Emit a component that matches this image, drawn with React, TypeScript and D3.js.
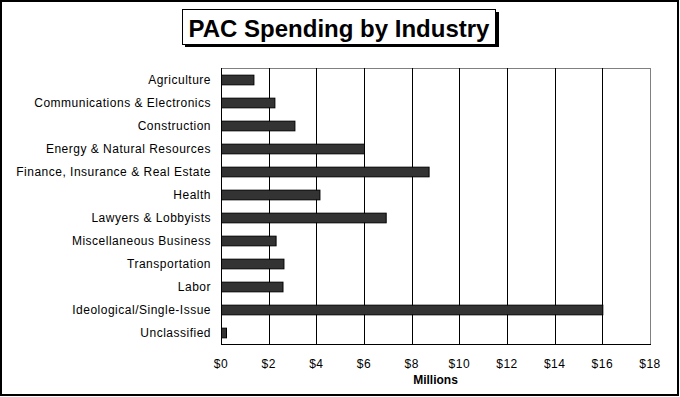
import React from "react";
import { scaleBand, scaleLinear, range } from "d3";

const categories = [
  "Agriculture",
  "Communications & Electronics",
  "Construction",
  "Energy & Natural Resources",
  "Finance, Insurance & Real Estate",
  "Health",
  "Lawyers & Lobbyists",
  "Miscellaneous Business",
  "Transportation",
  "Labor",
  "Ideological/Single-Issue",
  "Unclassified",
];

// millions of dollars
const spending = [1.36, 2.24, 3.08, 6.0, 8.71, 4.13, 6.91, 2.29, 2.62, 2.58, 16.0, 0.21];

const tickValues = range(0, 19, 2);

const width = 680;
const height = 397;
const margin = { top: 68, right: 30, bottom: 53, left: 221 };
const font = "Arial, 'Liberation Sans', sans-serif";

const App = () => {
  const xScale = scaleLinear()
    .domain([0, 18])
    .range([margin.left, width - margin.right]);

  const yScale = scaleBand()
    .domain(categories)
    .range([margin.top, height - margin.bottom])
    .paddingInner(0.58)
    .paddingOuter(0.29);

  const plotBottom = height - margin.bottom;
  const plotRight = width - margin.right;

  return (
    <div style={{ position: "fixed", left: 0, top: 0 }}>
      <svg width={width} height={height} style={{ display: "block", background: "white" }}>
        <rect x={1} y={1} width={677} height={394} fill="white" stroke="black" strokeWidth={2} />

        {/* title box with drop shadow */}
        <rect x={185} y={12} width={314} height={35} fill="black" />
        <rect x={182.5} y={9.5} width={313} height={35} fill="white" stroke="black" strokeWidth={1} />
        <text x={339} y={37} textAnchor="middle" fontFamily={font} fontWeight="bold" fontSize={24}>
          PAC Spending by Industry
        </text>

        {/* plot frame */}
        <line x1={margin.left} x2={plotRight} y1={margin.top + 0.5} y2={margin.top + 0.5} stroke="#808080" />
        <line x1={plotRight + 0.5} x2={plotRight + 0.5} y1={margin.top} y2={plotBottom} stroke="#808080" />

        {tickValues.slice(1, -1).map((t) => (
          <line
            key={t}
            x1={Math.round(xScale(t)) + 0.5}
            x2={Math.round(xScale(t)) + 0.5}
            y1={margin.top}
            y2={plotBottom}
            stroke="black"
          />
        ))}

        {categories.map((c, i) => (
          <rect
            key={c}
            x={xScale(0) + 0.5}
            y={yScale(c)! + 0.5}
            width={xScale(spending[i]) - xScale(0)}
            height={yScale.bandwidth()}
            fill="#333333"
            stroke="black"
            strokeWidth={1}
          />
        ))}

        <line x1={margin.left + 0.5} x2={margin.left + 0.5} y1={margin.top} y2={plotBottom + 1} stroke="black" />
        <line x1={margin.left} x2={plotRight + 1} y1={plotBottom + 0.5} y2={plotBottom + 0.5} stroke="black" />

        {categories.map((c) => (
          <text
            key={c}
            x={211}
            y={yScale(c)! + yScale.bandwidth() / 2}
            dy="0.35em"
            textAnchor="end"
            fontFamily={font}
            fontSize={12}
            letterSpacing={0.5}
          >
            {c}
          </text>
        ))}

        {tickValues.map((t) => (
          <text
            key={t}
            x={xScale(t)}
            y={368}
            textAnchor="middle"
            fontFamily={font}
            fontSize={12}
            letterSpacing={0.5}
          >
            {`$${t}`}
          </text>
        ))}

        <text
          x={(margin.left + plotRight) / 2}
          y={384}
          textAnchor="middle"
          fontFamily={font}
          fontWeight="bold"
          fontSize={12}
        >
          Millions
        </text>
      </svg>
    </div>
  );
};

export default App;
